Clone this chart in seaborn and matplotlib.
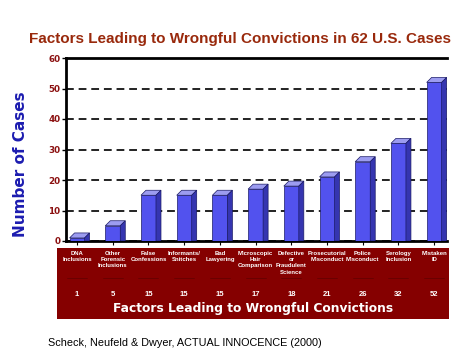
import matplotlib
matplotlib.use("Agg")
import matplotlib.pyplot as plt
from matplotlib.patches import Polygon, Rectangle
from matplotlib.transforms import blended_transform_factory
import seaborn as sns
import pandas as pd

categories = ["DNA\nInclusions", "Other\nForensic\nInclusions", "False\nConfessions",
              "Informants/\nSnitches", "Bad\nLawyering", "Microscopic\nHair\nComparison",
              "Defective\nor\nFraudulent\nScience", "Prosecutorial\nMisconduct",
              "Police\nMisconduct", "Serology\nInclusion", "Mistaken\nID"]
values = [1, 5, 15, 15, 15, 17, 18, 21, 26, 32, 52]
yticks = [0, 10, 20, 30, 40, 50, 60]

title = "Factors Leading to Wrongful Convictions in 62 U.S. Cases"
ylabel = "Number of Cases"
xlabel = "Factors Leading to Wrongful Convictions"
source = "Scheck, Neufeld & Dwyer, ACTUAL INNOCENCE (2000)"

df = pd.DataFrame({"factor": categories, "cases": values})

sns.set_style("white")
plt.rcParams["font.family"] = ["DejaVu Sans"]

W, H = 474, 355
fig = plt.figure(figsize=(W / 100, H / 100), dpi=100)
ax = fig.add_axes([66 / W, 114 / H, 381 / W, 183 / H])

front = "#5252ee"
top_c = "#9c9cf0"
side_c = "#3535b0"
edge = "#1a1a66"

sns.barplot(data=df, x="factor", y="cases", order=categories, color=front,
            saturation=1, width=0.42, edgecolor=edge, linewidth=0.5, ax=ax, zorder=3)

ax.set_xlim(-0.31, 10.36)
ax.set_ylim(0, 60)
ax.set_yticks(yticks)

# pseudo-3D faces
pos = ax.get_position()
px_x = pos.width * W / (ax.get_xlim()[1] - ax.get_xlim()[0])
px_y = pos.height * H / (ax.get_ylim()[1] - ax.get_ylim()[0])
dx, dy = 5 / px_x, 5 / px_y
for p in list(ax.patches):
    x0 = p.get_x()
    w = p.get_width()
    h = p.get_height()
    topf = Polygon([(x0, h), (x0 + w, h), (x0 + w + dx, h + dy), (x0 + dx, h + dy)],
                   closed=True, facecolor=top_c, edgecolor=edge, linewidth=0.5, zorder=3)
    sidef = Polygon([(x0 + w, 0), (x0 + w + dx, 0), (x0 + w + dx, h + dy), (x0 + w, h)],
                    closed=True, facecolor=side_c, edgecolor=edge, linewidth=0.5, zorder=3)
    ax.add_patch(topf)
    ax.add_patch(sidef)

ax.yaxis.grid(True, linestyle=(0, (4, 2.5)), linewidth=1.4, color="#222222", zorder=0)
ax.xaxis.grid(False)
ax.set_axisbelow(True)

for s in ["left", "bottom", "top"]:
    ax.spines[s].set_visible(True)
    ax.spines[s].set_linewidth(2)
    ax.spines[s].set_color("black")
ax.spines["right"].set_visible(False)

ax.set_xticks(range(len(categories)))
ax.set_xticklabels([""] * len(categories))
ax.tick_params(axis="x", direction="out", length=3, width=0.8, color="black", bottom=True)
ax.tick_params(axis="y", direction="out", length=3, width=1, color="black", left=True, pad=1)
for t in ax.get_yticklabels():
    t.set_fontweight("bold")
    t.set_fontsize(6.3)
    t.set_color("#8b1010")
ax.set_xlabel("")
ax.set_ylabel(ylabel, fontsize=11, fontweight="bold", color="#1c1cb0")
ax.yaxis.set_label_coords(-0.1, 0.42)

# title
fig.text(240.5 / W, (H - 43.5) / H, title, ha="center", va="baseline",
         fontsize=11, fontweight="bold", color="#99290c",
         family=["Liberation Sans"])

# red band
fig.patches.append(Rectangle((57 / W, (H - 319) / H), 392 / W, 71 / H,
                             transform=fig.transFigure, facecolor="#850000",
                             edgecolor="none", zorder=0))

trans = blended_transform_factory(ax.transData, fig.transFigure)
for i, (c, v) in enumerate(zip(categories, values)):
    fig.text(i, (H - 251) / H, c, transform=trans, ha="center", va="top",
             fontsize=4.3, fontweight="bold", color="white", linespacing=1.3,
             family=["Liberation Sans"])
    fig.text(i, (H - 295) / H, str(v), transform=trans, ha="center", va="center",
             fontsize=5.5, fontweight="bold", color="white",
             family=["Liberation Sans"])
    fig.add_artist(plt.Line2D([i - 0.28, i + 0.28], [(H - 278) / H] * 2, transform=trans,
                              color="#5a0000", linewidth=0.6, alpha=0.7))

fig.text(253 / W, (H - 308.5) / H, xlabel, ha="center", va="center",
         fontsize=8.8, fontweight="bold", color="white")

fig.text(48 / W, (H - 346) / H, source, ha="left", va="baseline",
         fontsize=7.8, color="black",
         family=["Liberation Sans"])

fig.savefig("out.png", dpi=100)
